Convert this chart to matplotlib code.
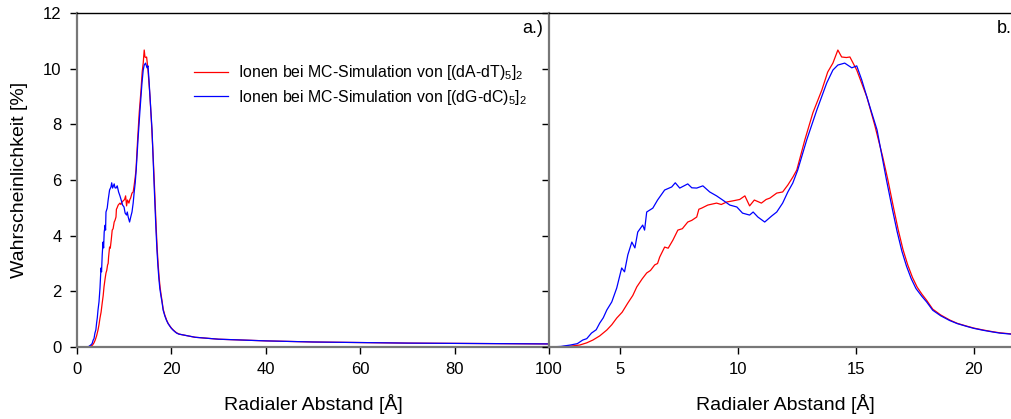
import matplotlib
matplotlib.use("Agg")
import matplotlib.pyplot as plt

plt.rcParams['font.family'] = ['Liberation Sans', 'DejaVu Sans']
plt.rcParams['mathtext.fontset'] = 'custom'
plt.rcParams['mathtext.rm'] = 'Liberation Sans'
plt.rcParams['mathtext.it'] = 'Liberation Sans'

# Radial distance [Å] and probability [%]
red_x = [0, 1.5, 2.0, 2.46, 2.9, 3.3, 3.6, 3.86, 4.15, 4.45, 4.66, 4.87, 5.1, 5.34,
         5.55, 5.72, 5.95, 6.14, 6.3, 6.48, 6.6, 6.69, 6.9, 7.05, 7.25, 7.46, 7.65,
         7.88, 8.05, 8.26, 8.35, 8.47, 8.73, 9.1, 9.3, 9.53, 9.79, 10.08, 10.3, 10.5,
         10.7, 11.0, 11.2, 11.36, 11.65, 11.9, 12.12, 12.33, 12.5, 12.84, 13.18,
         13.56, 13.81, 14.03, 14.24, 14.4, 14.6, 14.75, 15.04, 15.47, 15.8, 16.14,
         16.36, 16.6, 16.8, 17.0, 17.2, 17.4, 17.6, 17.8, 18.0, 18.26, 18.6, 18.98,
         19.3, 19.7, 20.0, 20.4, 20.8, 21.1, 21.6, 22, 25, 30, 40, 50, 60, 70, 80,
         90, 100]
red_y = [0, 0, 0.0, 0.01, 0.03, 0.07, 0.15, 0.25, 0.4, 0.61, 0.8, 1.04, 1.25, 1.58,
         1.85, 2.16, 2.45, 2.66, 2.75, 2.95, 3.0, 3.23, 3.59, 3.55, 3.84, 4.2, 4.25,
         4.49, 4.55, 4.67, 4.95, 4.99, 5.1, 5.17, 5.12, 5.21, 5.25, 5.3, 5.43, 5.07,
         5.28, 5.17, 5.3, 5.35, 5.53, 5.57, 5.82, 6.1, 6.36, 7.44, 8.41,
         9.23, 9.88, 10.2, 10.67, 10.42, 10.4, 10.42, 9.95, 8.98, 7.98, 6.83,
         6.0, 5.0, 4.2, 3.5, 2.95, 2.5, 2.15, 1.9, 1.68, 1.36, 1.15, 0.97,
         0.85, 0.75, 0.68, 0.61, 0.55, 0.51, 0.47, 0.45, 0.35, 0.28, 0.22, 0.18,
         0.16, 0.14, 0.13, 0.12, 0.11]

blue_x = [0, 1.5, 2.0, 2.5, 2.9, 3.2, 3.43, 3.6, 3.8, 4.0, 4.15, 4.3, 4.45, 4.66,
          4.87, 5.08, 5.2, 5.34, 5.51, 5.64, 5.76, 5.97, 6.05, 6.14, 6.4, 6.6, 6.9,
          7.2, 7.35, 7.54, 7.88, 8.05, 8.26, 8.52, 8.81, 9.1, 9.36, 9.66, 9.96,
          10.2, 10.5, 10.65, 10.85, 11.14, 11.44, 11.65, 11.9, 12.12, 12.33, 12.54,
          12.92, 13.35, 13.77, 14.03, 14.24, 14.53, 14.83, 15.04, 15.25, 15.6,
          15.9, 16.14, 16.3, 16.55, 16.75, 16.95, 17.15, 17.35, 17.55, 17.8, 18.0,
          18.26, 18.6, 18.98, 19.3, 19.7, 20.0, 20.4, 20.8, 21.1, 21.6, 22, 25, 30,
          40, 50, 60, 70, 80, 90, 100]
blue_y = [0, 0, 0.0, 0.02, 0.07, 0.12, 0.25, 0.3, 0.5, 0.62, 0.86, 1.05, 1.33, 1.62,
          2.12, 2.84, 2.7, 3.31, 3.77, 3.56, 4.13, 4.38, 4.2, 4.85, 4.99, 5.28, 5.64,
          5.75, 5.9, 5.71, 5.86, 5.72, 5.71, 5.79, 5.57, 5.43, 5.28, 5.1, 5.03,
          4.81, 4.74, 4.85, 4.67, 4.49, 4.71, 4.85, 5.17, 5.57, 5.89, 6.36,
          7.44, 8.52, 9.49, 9.95, 10.13, 10.2, 10.03, 10.1, 9.6, 8.62,
          7.8, 6.72, 6.0, 4.95, 4.15, 3.45, 2.9, 2.45, 2.1, 1.82, 1.62,
          1.32, 1.12, 0.95, 0.84, 0.74, 0.67, 0.6, 0.54, 0.5, 0.46, 0.45, 0.35, 0.28,
          0.22, 0.18, 0.16, 0.14, 0.13, 0.12, 0.11]

red_label = r'Ionen bei MC-Simulation von [(dA-dT)$_5$]$_2$'
blue_label = r'Ionen bei MC-Simulation von [(dG-dC)$_5$]$_2$'

W, H = 1011, 419
fig = plt.figure(figsize=(W / 100, H / 100), dpi=100)

left_a, right_a = 77, 549
top_px, bot_px = 13, 347
right_b = 1021

axa = fig.add_axes([left_a / W, (H - bot_px) / H, (right_a - left_a) / W, (bot_px - top_px) / H])
axb = fig.add_axes([right_a / W, (H - bot_px) / H, (right_b - right_a) / W, (bot_px - top_px) / H])

for ax in (axa, axb):
    ax.plot(red_x, red_y, color='#ff0000', lw=0.9, label=red_label)
    ax.plot(blue_x, blue_y, color='#0000ff', lw=0.9, label=blue_label)
    ax.set_ylim(0, 12)
    ax.set_yticks(range(0, 13, 2))
    ax.tick_params(direction='out', length=5, width=1, labelsize=12, pad=6,
                   color='black')
    ax.spines['top'].set_color('black')
    ax.spines['top'].set_linewidth(1)
    ax.spines['left'].set_color('#777777')
    ax.spines['left'].set_linewidth(1.6)
    ax.spines['bottom'].set_color('#777777')
    ax.spines['bottom'].set_linewidth(1.6)
    ax.spines['right'].set_visible(False)
    ax.set_xlabel('Radialer Abstand [Å]', fontsize=14, labelpad=12)

axa.set_xlim(0, 100)
axa.set_xticks(range(0, 101, 20))
axa.set_ylabel('Wahrscheinlichkeit [%]', fontsize=14, labelpad=11)
axa.text(0.988, 0.955, 'a.)', transform=axa.transAxes, ha='right', va='center', fontsize=13)

axb.set_xlim(2, 22)
axb.set_xticks([5, 10, 15, 20])
axb.set_yticklabels([])
axb.text(0.992, 0.955, 'b.)', transform=axb.transAxes, ha='right', va='center', fontsize=13)

leg = axa.legend(loc='upper left', bbox_to_anchor=(0.247, 0.85), frameon=False,
                 fontsize=11.4, handlelength=2.2, handletextpad=0.6, labelspacing=0.35,
                 borderaxespad=0, borderpad=0)

fig.savefig('out.png', dpi=100)
